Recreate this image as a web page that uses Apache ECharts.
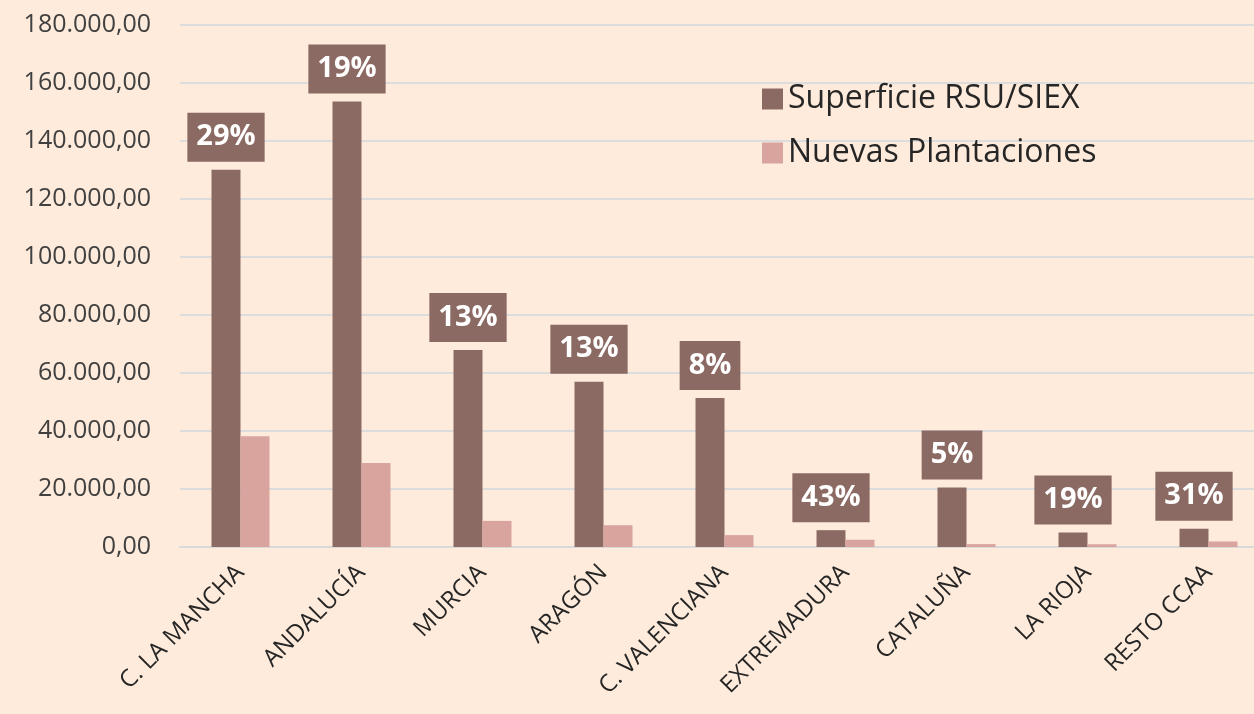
<!DOCTYPE html>
<html>
<head>
<meta charset="utf-8">
<script src="https://cdn.jsdelivr.net/npm/echarts@6/dist/echarts.min.js"></script>
<style>
html,body{margin:0;padding:0;background:#FEEBDB;overflow:hidden;width:1254px;height:714px;}
#c{width:1300px;height:714px;}
</style>
</head>
<body>
<div id="c"></div>
<script>
const categories = ["C. LA MANCHA","ANDALUCÍA","MURCIA","ARAGÓN","C. VALENCIANA","EXTREMADURA","CATALUÑA","LA RIOJA","RESTO CCAA"];
const superficie = [130100, 153600, 67900, 57000, 51400, 5800, 20500, 5000, 6300];
const nuevas = [38200, 29000, 9000, 7500, 4100, 2500, 1000, 950, 1900];
const pctLabels = ["29%","19%","13%","13%","8%","43%","5%","19%","31%"];
const seriesNames = ["Superficie RSU/SIEX","Nuevas Plantaciones"];

function fmt(v){
  const s = Math.round(v).toString().replace(/\B(?=(\d{3})+(?!\d))/g, ".");
  return s + ",00";
}

const chart = echarts.init(document.getElementById('c'));
chart.setOption({
  backgroundColor: '#FEEBDB',
  animation: false,
  textStyle: { fontFamily: 'Open Sans' },
  grid: { left: 180, top: 25, width: 1089, height: 522, containLabel: false },
  legend: {
    orient: 'vertical',
    left: 757, top: 78,
    itemWidth: 21, itemHeight: 21, itemGap: 22,
    icon: 'rect',
    data: seriesNames,
    textStyle: { fontSize: 32, color: '#262626', fontFamily: 'Open Sans', padding: [0,0,0,0] }
  },
  xAxis: {
    type: 'category',
    data: categories,
    axisTick: { show: false },
    axisLine: { lineStyle: { color: '#d9d9d9', width: 2 } },
    axisLabel: { rotate: 45, fontSize: 24, color: '#262626', margin: 22, interval: 0 }
  },
  yAxis: {
    type: 'value',
    min: 0, max: 180000, interval: 20000,
    axisLine: { show: false },
    axisTick: { show: false },
    splitLine: { lineStyle: { color: '#dcdcdc', width: 2 } },
    axisLabel: { formatter: fmt, fontSize: 25, color: '#404040', margin: 29 }
  },
  series: [
    {
      name: seriesNames[0], type: 'bar', data: superficie,
      barWidth: 29, barGap: '0%',
      itemStyle: { color: '#8C6A64' },
      label: {
        show: true, position: 'top', distance: 8,
        formatter: p => pctLabels[p.dataIndex],
        backgroundColor: '#8C6A64', color: '#ffffff',
        fontSize: 29, fontWeight: 'bold', fontFamily: 'Open Sans',
        lineHeight: 33, padding: [8, 9, 8, 9]
      }
    },
    {
      name: seriesNames[1], type: 'bar', data: nuevas,
      barWidth: 29,
      itemStyle: { color: '#D9A49E' }
    }
  ]
});
</script>
</body>
</html>
